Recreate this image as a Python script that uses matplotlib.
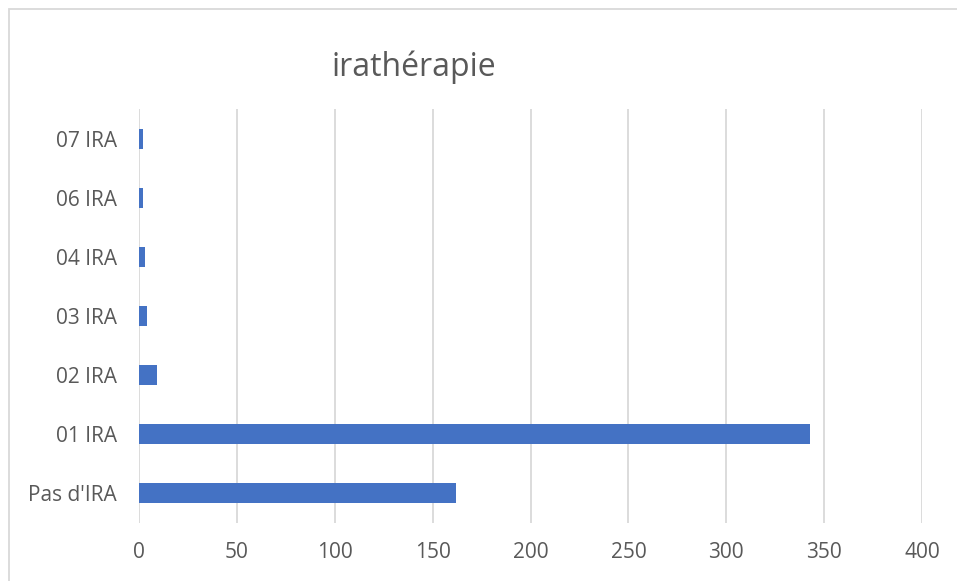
import matplotlib.pyplot as plt
from matplotlib.patches import Rectangle

categories = ["Pas d'IRA", "01 IRA", "02 IRA", "03 IRA", "04 IRA", "06 IRA", "07 IRA"]
values = [162, 343, 9, 4, 3, 2, 2]
xticks = [0, 50, 100, 150, 200, 250, 300, 350, 400]

plt.rcParams['font.family'] = ['Open Sans', 'DejaVu Sans']
text_color = '#595959'
grid_color = '#d9d9d9'

fig = plt.figure(figsize=(9.57, 5.81), dpi=100)
ax = fig.add_axes([139 / 957, 1 - 523 / 581, (922 - 139) / 957, (523 - 109) / 581])

ax.barh(range(len(categories)), values, height=0.34, color='#4472c4')
ax.set_xlim(0, 400)
ax.set_ylim(-0.5, len(categories) - 0.5)
ax.set_xticks(xticks)
ax.set_yticks(range(len(categories)))
ax.set_yticklabels(categories)
ax.tick_params(axis='both', length=0, labelsize=15, colors=text_color)
ax.tick_params(axis='y', pad=16)
ax.tick_params(axis='x', pad=14)
ax.grid(axis='x', color=grid_color, linewidth=1.3)
ax.set_axisbelow(True)
for s in ax.spines.values():
    s.set_visible(False)

fig.text(414 / 957, 1 - 67 / 581, 'irathérapie', fontsize=23, color=text_color,
         ha='center', va='center')

# cadre du graphique
fig.patches.append(Rectangle((9 / 957, -0.05), 1.1, 1 - 9 / 581 + 0.05,
                             transform=fig.transFigure, fill=False,
                             edgecolor=grid_color, linewidth=1.3))

fig.savefig('out.png', dpi=100)
